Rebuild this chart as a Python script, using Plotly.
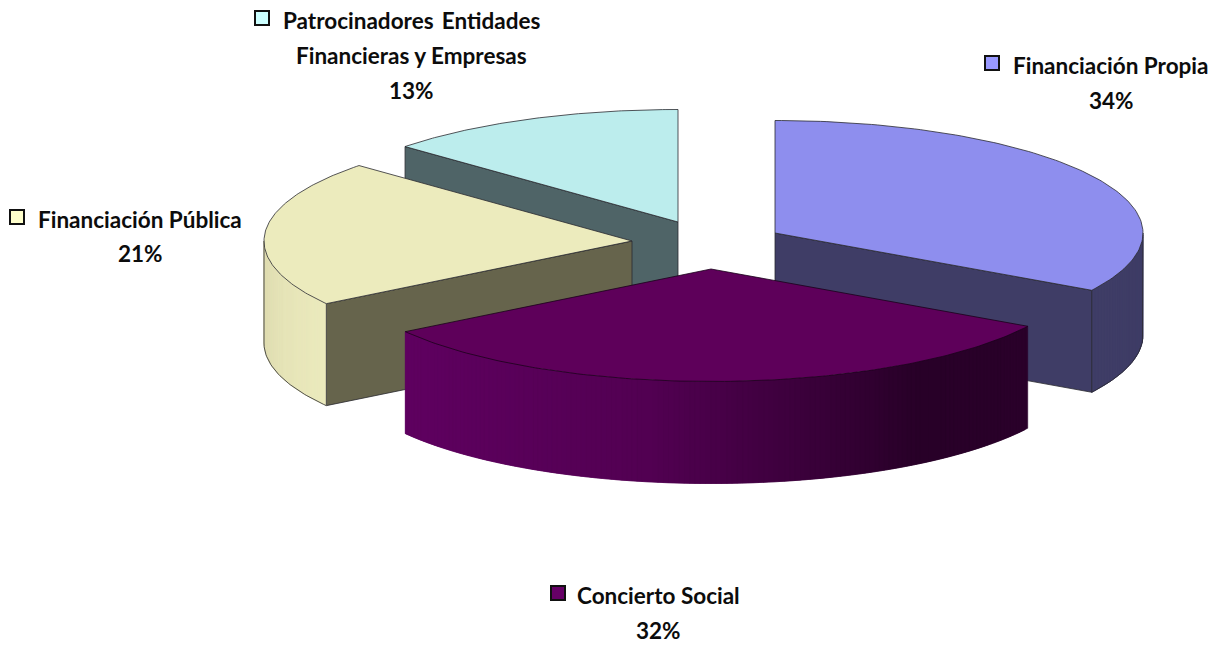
import numpy as np
import plotly.graph_objects as go

categories = ["Financiación Propia", "Concierto Social", "Financiación Pública", "Patrocinadores"]
shares = [33.5, 32.1, 21.1, 13.3]
share_labels = ["34%", "32%", "21%", "13%"]
top_colors = ["#8E8EEE", "#5E005A", "#ECEBBD", "#BCEDED"]
wall_colors = ["#3F3D66", "#5E005A", "#66644C", "#4F6467"]
key_colors = ["#9999FF", "#660066", "#FFFFCC", "#CCFFFF"]

# Projection of the exploded pie on the page
RX, RY, DEPTH = 368, 112.5, 102
CENTERS = [(775, 233), (711, 269), (632, 241), (678, 222)]
W, H = 1218, 645
EDGE = "#2a2a30"
FONT = dict(family="Lato", size=22.5, color="#0c0c0c")

starts = np.concatenate([[0], np.cumsum(shares)[:-1]]) * 3.6
ends = np.cumsum(shares) * 3.6


def rim(c, deg):
    a = np.radians(deg)
    return c[0] + RX * np.sin(a), c[1] - RY * np.cos(a)


def poly(fig, xs, ys, fill, line=EDGE, lw=0.8):
    fig.add_trace(go.Scatter(
        x=list(xs) + [xs[0]], y=list(ys) + [ys[0]], mode="lines", fill="toself",
        fillcolor=fill, line=dict(color=line if lw else fill, width=lw or 0.5),
        hoverinfo="skip", showlegend=False))


def top(fig, c, a0, a1, fill, line=EDGE):
    t = np.linspace(a0, a1, 120)
    x, y = rim(c, t)
    poly(fig, [c[0], *x], [c[1], *y], fill, line=line)


def radial_wall(fig, c, a, fill):
    x, y = rim(c, a)
    poly(fig, [c[0], x, x, c[0]], [c[1], y, y + DEPTH, c[1] + DEPTH], fill)


def lerp_color(x, stops):
    px = [s[0] for s in stops]
    rgb = [np.interp(x, px, [s[1][i] for s in stops]) for i in range(3)]
    return "rgb({:.0f},{:.0f},{:.0f})".format(*rgb)


def outer_wall(fig, c, a0, a1, shade, n=70, outline=True):
    t = np.linspace(a0, a1, n + 1)
    x, y = rim(c, t)
    for i in range(n):
        j = min(i + 2, n)
        xs = [x[i], x[i + 1], x[j], x[j], x[i + 1], x[i]]
        ys = [y[i], y[i + 1], y[j], y[j] + DEPTH, y[i + 1] + DEPTH, y[i] + DEPTH]
        poly(fig, xs, ys, shade(x[i]), lw=0)
    if outline:
        fig.add_trace(go.Scatter(
            x=[x[0], *x, x[-1]], y=[y[0], *(y + DEPTH), y[-1]], mode="lines",
            line=dict(color=EDGE, width=0.8), hoverinfo="skip", showlegend=False))


fig = go.Figure()

# Back to front: Patrocinadores, Pública, Propia, Concierto
radial_wall(fig, CENTERS[3], starts[3], wall_colors[3])
top(fig, CENTERS[3], starts[3], ends[3], top_colors[3])

radial_wall(fig, CENTERS[2], starts[2], wall_colors[2])
pub_stops = [(264, (224, 221, 178)), (285, (230, 228, 184)), (330, (236, 235, 189))]
outer_wall(fig, CENTERS[2], starts[2], 270, lambda v: lerp_color(v, pub_stops), n=40)
top(fig, CENTERS[2], starts[2], ends[2], top_colors[2])

radial_wall(fig, CENTERS[0], ends[0], wall_colors[0])
outer_wall(fig, CENTERS[0], 90, ends[0], lambda v: wall_colors[0], n=30)
top(fig, CENTERS[0], starts[0], ends[0], top_colors[0])

soc_stops = [(405, (95, 0, 96)), (650, (82, 0, 82)), (800, (60, 0, 60)),
             (920, (40, 0, 40)), (1028, (42, 0, 42))]
outer_wall(fig, CENTERS[1], starts[1], ends[1], lambda v: lerp_color(v, soc_stops),
           n=140, outline=False)
top(fig, CENTERS[1], starts[1], ends[1], top_colors[1], line="#1a001a")

# Legend keys
fig.add_trace(go.Scatter(
    x=[992, 558, 17, 262], y=[63, 593, 217, 18], mode="markers",
    marker=dict(symbol="square", size=14, color=key_colors,
                line=dict(color="#111111", width=2)),
    hoverinfo="skip", showlegend=False))

texts = [
    (1111, 65, categories[0]), (1111, 100, share_labels[0]),
    (658, 595, categories[1]), (658, 630, share_labels[1]),
    (140, 219, categories[2]), (140, 253, share_labels[2]),
    (411, 20, "Patrocinadores \u2009Entidades"), (411, 55, "Financieras y Empresas"),
    (411, 90, share_labels[3]),
]
for x, y, s in texts:
    fig.add_annotation(x=x, y=y, text=f"<b>{s}</b>", showarrow=False, font=FONT,
                       xanchor="center", yanchor="middle")

fig.update_layout(
    width=W, height=H, margin=dict(l=0, r=0, t=0, b=0),
    paper_bgcolor="white", plot_bgcolor="white", showlegend=False,
    xaxis=dict(range=[0, W], visible=False, fixedrange=True),
    yaxis=dict(range=[H, 0], visible=False, fixedrange=True),
)
fig.write_html("out.html", config=dict(displayModeBar=False),
               post_script="document.body.style.margin='0';")
